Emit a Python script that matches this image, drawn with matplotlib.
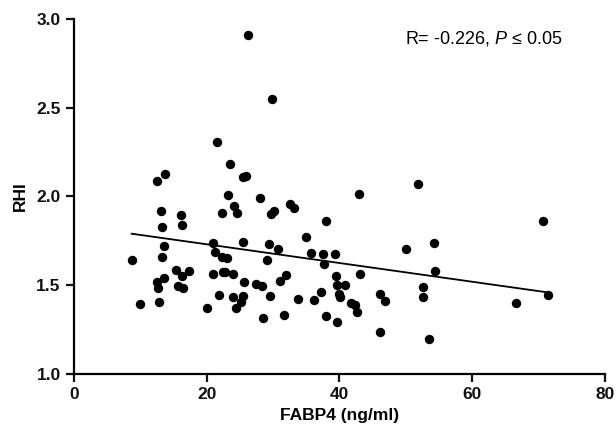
import matplotlib
matplotlib.use('Agg')
import matplotlib.pyplot as plt
import numpy as np

plt.rcParams['font.family'] = ['Liberation Sans', 'DejaVu Sans']
plt.rcParams['mathtext.fontset'] = 'custom'
plt.rcParams['mathtext.it'] = 'Liberation Sans:italic'

# FABP4 (ng/ml) and RHI values
fabp4 = [26.2, 29.9, 21.5, 23.5, 13.7, 12.5, 25.4, 25.9, 23.2, 28.1,
         13.1, 16.2, 22.3, 24.1, 24.5, 29.7, 30.1, 32.6, 33.2, 38.0,
         13.2, 16.3, 13.6, 21.0, 25.5, 29.4, 30.7, 35.0, 21.2, 8.7,
         13.2, 22.3, 23.1, 29.1, 35.7, 37.6, 39.4, 37.7, 15.4, 17.3,
         16.3, 13.5, 12.5, 12.6, 15.7, 16.5, 21.0, 22.4, 22.7, 23.9,
         25.6, 27.5, 28.4, 31.0, 31.9, 21.8, 23.9, 25.5, 29.6, 25.1,
         24.4, 20.1, 10.0, 12.8, 28.5, 31.6, 33.7, 36.2, 37.3, 38.0,
         39.6, 39.5, 39.6, 39.9, 40.1, 51.9, 43.0, 70.7, 54.3, 50.1,
         54.4, 43.1, 40.8, 46.1, 46.8, 41.7, 42.3, 42.6, 46.1, 52.6,
         52.6, 53.5, 66.6, 71.5]
rhi = [2.91, 2.55, 2.305, 2.18, 2.127, 2.085, 2.11, 2.115, 2.01, 1.99,
       1.918, 1.897, 1.907, 1.948, 1.905, 1.90, 1.92, 1.958, 1.935, 1.86,
       1.83, 1.84, 1.72, 1.74, 1.744, 1.733, 1.704, 1.772, 1.686, 1.644,
       1.659, 1.657, 1.654, 1.642, 1.68, 1.676, 1.678, 1.62, 1.588, 1.582,
       1.554, 1.539, 1.517, 1.483, 1.496, 1.483, 1.562, 1.576, 1.576, 1.562,
       1.52, 1.505, 1.496, 1.524, 1.558, 1.443, 1.434, 1.439, 1.441, 1.404,
       1.374, 1.372, 1.396, 1.404, 1.314, 1.334, 1.424, 1.415, 1.464, 1.327,
       1.295, 1.554, 1.50, 1.449, 1.432, 2.072, 2.014, 1.86, 1.74, 1.706,
       1.58, 1.562, 1.50, 1.452, 1.41, 1.40, 1.387, 1.348, 1.237, 1.492,
       1.436, 1.20, 1.40, 1.447]

# regression line as drawn in the figure
fit_slope = -0.00527
fit_intercept = 1.836

x_ticks = [0, 20, 40, 60, 80]
y_ticks = [1.0, 1.5, 2.0, 2.5, 3.0]

fig = plt.figure(figsize=(6.16, 4.37), dpi=100)
ax = fig.add_axes([0.120, 0.144, 0.862, 0.813])

ax.scatter(fabp4, rhi, s=46, color='black', zorder=3, linewidths=0)

xs = np.array([min(fabp4), max(fabp4)])
ax.plot(xs, fit_slope * xs + fit_intercept, color='black', lw=1.3)

ax.set_xlim(0, 80)
ax.set_ylim(1.0, 3.0)
ax.set_xticks(x_ticks)
ax.set_yticks(y_ticks)
ax.set_yticklabels(['%.1f' % v for v in y_ticks])

for s in ['top', 'right']:
    ax.spines[s].set_visible(False)
for s in ['left', 'bottom']:
    ax.spines[s].set_linewidth(1.6)
ax.tick_params(width=1.6, length=6, labelsize=12.5, colors='#111111')
for lab in ax.get_xticklabels() + ax.get_yticklabels():
    lab.set_fontweight('bold')

ax.set_xlabel('FABP4 (ng/ml)', fontsize=12.5, fontweight='bold', labelpad=4)
ax.set_ylabel('RHI', fontsize=12.5, fontweight='bold', labelpad=6)

ax.text(0.921, 0.944, r'R= -0.226, $\mathit{P}$' + ' \u2264 0.05', transform=ax.transAxes,
        ha='right', va='center', fontsize=13)

fig.savefig('out.png')
